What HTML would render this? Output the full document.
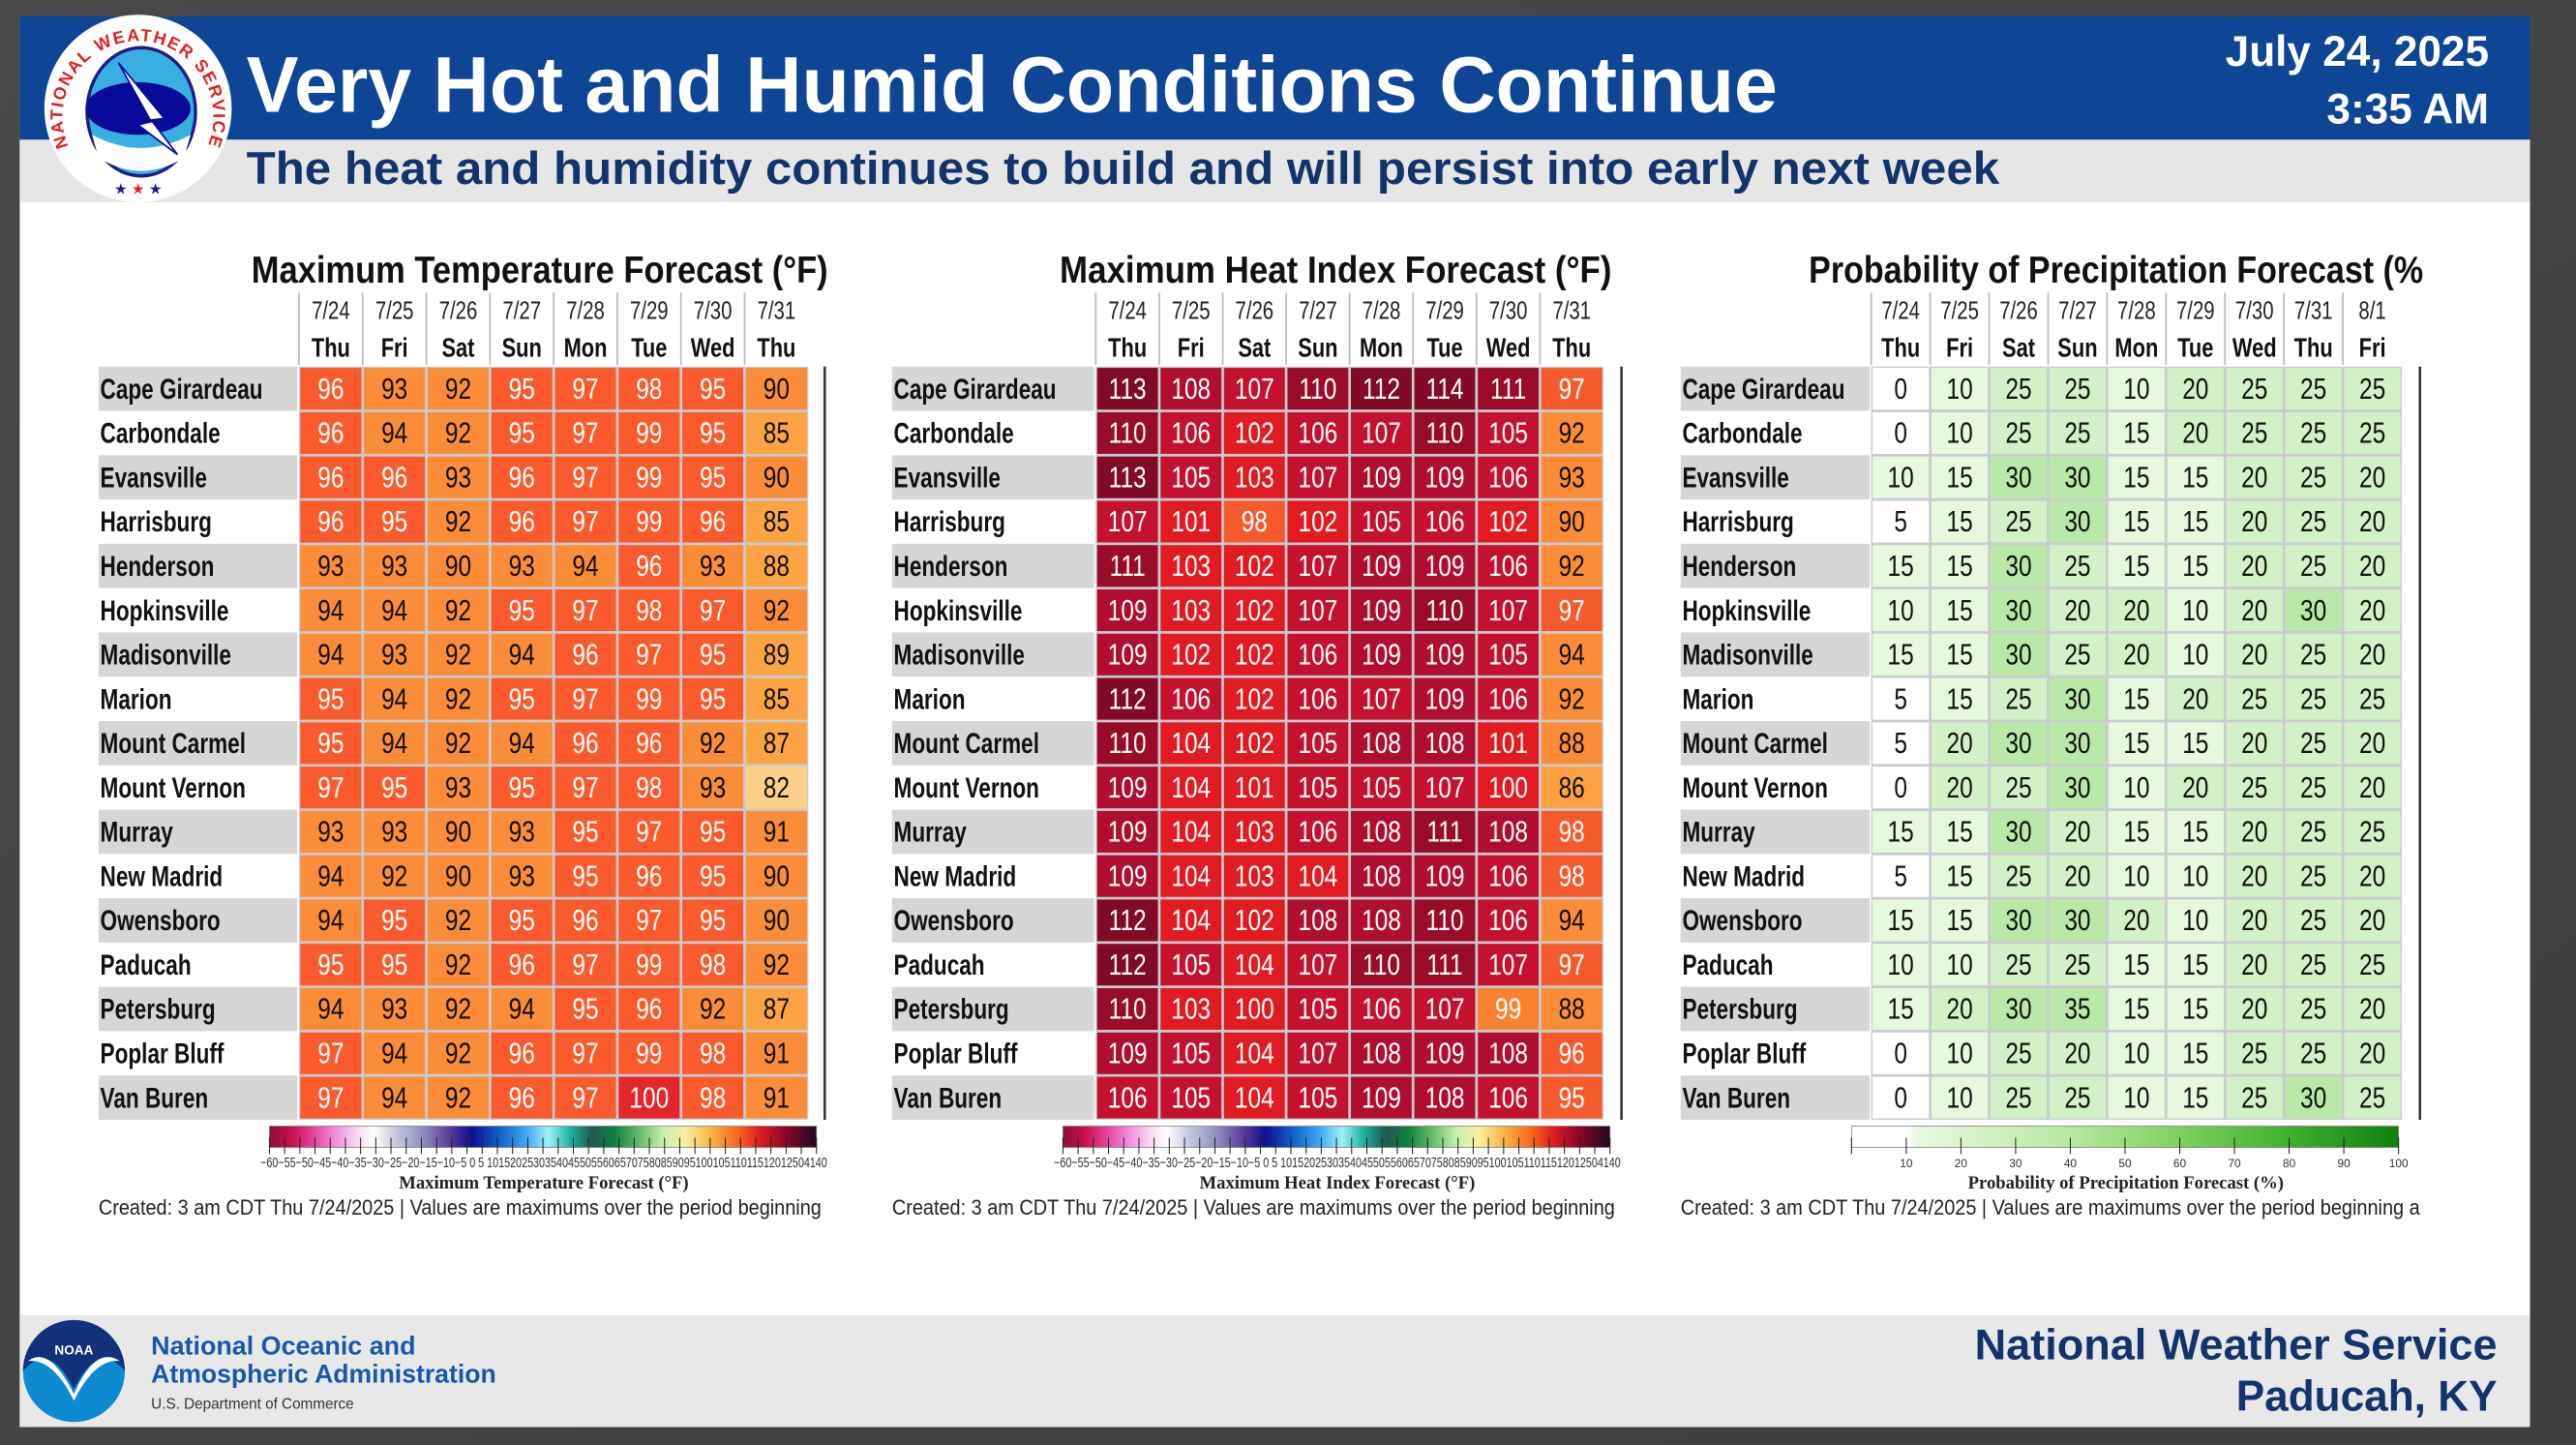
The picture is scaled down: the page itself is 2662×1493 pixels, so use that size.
<!DOCTYPE html>
<html><head><meta charset="utf-8">
<style>
html,body{margin:0;padding:0;background:#444;}
svg{display:block;}
text{font-family:"Liberation Sans",sans-serif;}
</style></head>
<body>
<svg id="s" xmlns="http://www.w3.org/2000/svg" width="2662" height="1493" viewBox="0 0 1568 879" preserveAspectRatio="none">
<defs>
<linearGradient id="bg" x1="0" y1="0" x2="1" y2="1"><stop offset="0" stop-color="#474849"/><stop offset="1" stop-color="#3f3f40"/></linearGradient>
<linearGradient id="tg" x1="0" x2="1">
<stop offset="0" stop-color="#8a0f3c"/><stop offset=".04" stop-color="#c8104e"/><stop offset=".08" stop-color="#e0459a"/><stop offset=".12" stop-color="#f58be0"/><stop offset=".16" stop-color="#f7d8f0"/><stop offset=".19" stop-color="#ffffff"/><stop offset=".23" stop-color="#c8c8e0"/><stop offset=".28" stop-color="#9090c0"/><stop offset=".33" stop-color="#5a3a98"/><stop offset=".37" stop-color="#101090"/><stop offset=".42" stop-color="#1060c8"/><stop offset=".47" stop-color="#40a8f0"/><stop offset=".51" stop-color="#a0f0f8"/><stop offset=".55" stop-color="#20b0a0"/><stop offset=".59" stop-color="#205850"/><stop offset=".63" stop-color="#108040"/><stop offset=".68" stop-color="#70c070"/><stop offset=".72" stop-color="#c8f0b0"/><stop offset=".76" stop-color="#f8f0a0"/><stop offset=".81" stop-color="#f8b040"/><stop offset=".86" stop-color="#f86020"/><stop offset=".9" stop-color="#d81820"/><stop offset=".94" stop-color="#900828"/><stop offset="1" stop-color="#200820"/>
</linearGradient>
<linearGradient id="pg" x1="0" x2="1">
<stop offset="0" stop-color="#ffffff"/><stop offset=".1" stop-color="#ffffff"/><stop offset=".12" stop-color="#e8f8e0"/><stop offset=".4" stop-color="#b8e8a0"/><stop offset=".6" stop-color="#80d060"/><stop offset=".8" stop-color="#40b030"/><stop offset="1" stop-color="#108010"/>
</linearGradient>
<path id="arc" d="M52 104 A46 46 0 1 1 116 104"/>
</defs>
<rect width="1568" height="879" fill="url(#bg)"/>
<rect x="12" y="10" width="1528" height="858" fill="#ffffff"/>
<rect x="12" y="10" width="1528" height="75" fill="#0e4595"/>
<rect x="12" y="85" width="1528" height="38" fill="#e6e6e6"/>
<rect x="12" y="800" width="1528" height="68" fill="#e8e8e8"/>
<text x="150" y="68" font-size="48" font-weight="bold" fill="#fff" textLength="932" lengthAdjust="spacingAndGlyphs">Very Hot and Humid Conditions Continue</text>
<text x="150" y="112" font-size="28" font-weight="bold" fill="#12336b" textLength="1067" lengthAdjust="spacingAndGlyphs">The heat and humidity continues to build and will persist into early next week</text>
<text x="1515" y="40" font-size="26" font-weight="bold" fill="#fff" text-anchor="end">July 24, 2025</text>
<text x="1515" y="75" font-size="26" font-weight="bold" fill="#fff" text-anchor="end">3:35 AM</text>
<ellipse cx="84" cy="66" rx="57" ry="57" fill="#fff"/>
<ellipse cx="86" cy="68" rx="34" ry="40" fill="#1b1b8a"/>
<ellipse cx="86" cy="68" rx="32" ry="38" fill="#39aee0"/>
<ellipse cx="84" cy="66" rx="32" ry="16" fill="#0a0a9a"/>
<path d="M56 82 Q86 98 116 82 L112 96 Q86 112 60 96Z" fill="#fff"/>
<path d="M72 38 L100 72 L92 73 L108 94 L84 76 L92 74Z" fill="#fff" stroke="#0a0a9a" stroke-width="1"/>
<text font-size="10.5" font-weight="bold" fill="#e02020" letter-spacing="1"><textPath href="#arc" startOffset="50%" text-anchor="middle">NATIONAL WEATHER SERVICE</textPath></text>
<text x="84" y="118" font-size="9" fill="#1b1b8a" text-anchor="middle">★ <tspan fill="#e02020">★</tspan> ★</text>
<circle cx="45" cy="834" r="31" fill="#0d8ad0"/>
<path d="M14 834 A31 31 0 0 1 76 834 Q60 815 45 845 Q30 815 14 834Z" fill="#13307a"/>
<path d="M17 828 Q30 818 45 848 Q58 818 73 828 Q58 826 45 852 Q32 826 17 828Z" fill="#fff"/>
<text x="45" y="824" font-size="8" font-weight="bold" fill="#fff" text-anchor="middle">NOAA</text>
<text x="92" y="824" font-size="16" font-weight="bold" fill="#1a57a8" textLength="161" lengthAdjust="spacingAndGlyphs">National Oceanic and</text>
<text x="92" y="841" font-size="16" font-weight="bold" fill="#1a57a8" textLength="210" lengthAdjust="spacingAndGlyphs">Atmospheric Administration</text>
<text x="92" y="857" font-size="9" fill="#333">U.S. Department of Commerce</text>
<text x="1520" y="827" font-size="26" font-weight="bold" fill="#12336b" text-anchor="end" textLength="318" lengthAdjust="spacingAndGlyphs">National Weather Service</text>
<text x="1520" y="858" font-size="26" font-weight="bold" fill="#12336b" text-anchor="end">Paducah, KY</text>
<g id="tables"></g>
</svg>
<script>
var names=["Cape Girardeau","Carbondale","Evansville","Harrisburg","Henderson","Hopkinsville","Madisonville","Marion","Mount Carmel","Mount Vernon","Murray","New Madrid","Owensboro","Paducah","Petersburg","Poplar Bluff","Van Buren"];
var T=[[96,93,92,95,97,98,95,90],[96,94,92,95,97,99,95,85],[96,96,93,96,97,99,95,90],[96,95,92,96,97,99,96,85],[93,93,90,93,94,96,93,88],[94,94,92,95,97,98,97,92],[94,93,92,94,96,97,95,89],[95,94,92,95,97,99,95,85],[95,94,92,94,96,96,92,87],[97,95,93,95,97,98,93,82],[93,93,90,93,95,97,95,91],[94,92,90,93,95,96,95,90],[94,95,92,95,96,97,95,90],[95,95,92,96,97,99,98,92],[94,93,92,94,95,96,92,87],[97,94,92,96,97,99,98,91],[97,94,92,96,97,100,98,91]];
var H=[[113,108,107,110,112,114,111,97],[110,106,102,106,107,110,105,92],[113,105,103,107,109,109,106,93],[107,101,98,102,105,106,102,90],[111,103,102,107,109,109,106,92],[109,103,102,107,109,110,107,97],[109,102,102,106,109,109,105,94],[112,106,102,106,107,109,106,92],[110,104,102,105,108,108,101,88],[109,104,101,105,105,107,100,86],[109,104,103,106,108,111,108,98],[109,104,103,104,108,109,106,98],[112,104,102,108,108,110,106,94],[112,105,104,107,110,111,107,97],[110,103,100,105,106,107,99,88],[109,105,104,107,108,109,108,96],[106,105,104,105,109,108,106,95]];
var P=[[0,10,25,25,10,20,25,25,25],[0,10,25,25,15,20,25,25,25],[10,15,30,30,15,15,20,25,20],[5,15,25,30,15,15,20,25,20],[15,15,30,25,15,15,20,25,20],[10,15,30,20,20,10,20,30,20],[15,15,30,25,20,10,20,25,20],[5,15,25,30,15,20,25,25,25],[5,20,30,30,15,15,20,25,20],[0,20,25,30,10,20,25,25,20],[15,15,30,20,15,15,20,25,25],[5,15,25,20,10,10,20,25,20],[15,15,30,30,20,10,20,25,20],[10,10,25,25,15,15,20,25,25],[15,20,30,35,15,15,20,25,20],[0,10,25,20,10,15,25,25,20],[0,10,25,25,10,15,25,30,25]];
function tc(v){if(v>=100)return["#e4252a","#fff"];if(v>=95)return["#fa5a2c","#fff"];if(v>=90)return["#fb8c38","#111"];if(v>=84)return["#fca444","#111"];return["#fdd08a","#111"];}
function hc(v){if(v>=112)return["#820a26","#fff"];if(v>=110)return["#9a0b2a","#fff"];if(v>=108)return["#b00e2e","#fff"];if(v>=105)return["#c4122e","#fff"];if(v>=100)return["#e21a22","#fff"];if(v>=99)return["#f8822e","#fff"];if(v>=95)return["#f65a2c","#fff"];if(v>=88)return["#fb8c38","#111"];return["#fca040","#111"];}
function pc(v){if(v>=30)return["#bae8a8","#111"];if(v>=20)return["#d2f1c6","#111"];if(v>=10)return["#e6f8de","#111"];return["#ffffff","#111"];}
var dates=["7/24","7/25","7/26","7/27","7/28","7/29","7/30","7/31","8/1"];
var days=["Thu","Fri","Sat","Sun","Mon","Tue","Wed","Thu","Fri"];
var out="";
function t(x,y,fs,anc,fill,wt,s,sx){return '<text transform="translate('+x+','+y+') scale('+sx+',1)" font-size="'+fs+'" text-anchor="'+anc+'" fill="'+fill+'" font-weight="'+wt+'">'+s+'</text>';}
function panel(o){
 var y0=223,rh=26.95,n=o.data[0].length,cw=(o.cx1-o.cx0)/n;
 out+='<text x="'+o.tx+'" y="172" font-size="23" fill="#111" textLength="'+o.tw+'" lengthAdjust="spacingAndGlyphs" font-weight="bold">'+o.title+'</text>';
 for(var j=0;j<n;j++){var x=o.cx0+j*cw;
  out+='<line x1="'+x+'" y1="178" x2="'+x+'" y2="222" stroke="#bbb" stroke-width="1"/>';
  out+=t(x+cw/2,194,15,"middle","#222","normal",dates[j],0.8);
  out+=t(x+cw/2,217,16.5,"middle","#111","bold",days[j],0.78);}
 out+='<rect x="'+o.cx0+'" y="'+y0+'" width="'+(o.cx1-o.cx0)+'" height="'+(rh*17)+'" fill="#c9cbd0"/>';
 for(var i=0;i<17;i++){var y=y0+i*rh;
  if(i%2==0)out+='<rect x="'+o.nx+'" y="'+y+'" width="'+(o.cx0-o.nx-1)+'" height="'+rh+'" fill="#d6d6d6"/>';
  out+=t(o.nx+1,y+19.5,17.5,"start","#111","bold",names[i],0.76);
  for(var j=0;j<n;j++){var v=o.data[i][j],c=o.col(v),x=o.cx0+j*cw;
   out+='<rect x="'+(x+0.8)+'" y="'+(y+0.8)+'" width="'+(cw-1.6)+'" height="'+(rh-1.6)+'" fill="'+c[0]+'"/>';
   out+=t(x+cw/2,y+19.5,18,"middle",c[1],"normal",v,0.8);}}
 out+='<line x1="'+o.rl+'" y1="'+y0+'" x2="'+o.rl+'" y2="'+(y0+rh*17)+'" stroke="#333" stroke-width="1.5"/>';
 out+='<rect x="'+o.bx+'" y="685" width="333" height="13" fill="url(#'+o.grad+')" stroke="#888" stroke-width="0.5"/>';
 var nt=o.grad=="tg"?36:10;
 for(var k=0;k<=nt;k++){var xx=o.bx+k*333/nt;out+='<line x1="'+xx+'" y1="692" x2="'+xx+'" y2="702" stroke="#222" stroke-width="0.6"/>';}
 if(o.grad=="tg"){out+='<text x="'+(o.bx+167)+'" y="710" font-size="8.5" text-anchor="middle" fill="#333" textLength="345" lengthAdjust="spacingAndGlyphs">−60−55−50−45−40−35−30−25−20−15−10−5 0 5 10152025303540455055606570758085909510010511011512012504140</text>';}
 else{for(var k=1;k<=10;k++){out+='<text x="'+(o.bx+k*33.3)+'" y="710" font-size="7" text-anchor="middle" fill="#333">'+(k*10)+'</text>';}}
 out+='<text x="'+(o.bx+167)+'" y="723" font-size="11" font-weight="bold" text-anchor="middle" fill="#222" style="font-family:\'Liberation Serif\',serif">'+o.cap+'</text>';
 out+='<text x="'+o.nx+'" y="739" font-size="13" fill="#222" textLength="'+o.crw+'" lengthAdjust="spacingAndGlyphs">Created: 3 am CDT Thu 7/24/2025  |  Values are maximums over the period beginning'+(o.grad=="pg"?' a':'')+'</text>';
}
panel({title:"Maximum Temperature Forecast (°F)",tx:153,tw:351,nx:60,cx0:182,cx1:492,rl:502,data:T,col:tc,bx:164,grad:"tg",cap:"Maximum Temperature Forecast (°F)",crw:440});
panel({title:"Maximum Heat Index Forecast (°F)",tx:645,tw:336,nx:543,cx0:667,cx1:976,rl:987,data:H,col:hc,bx:647,grad:"tg",cap:"Maximum Heat Index Forecast (°F)",crw:440});
panel({title:"Probability of Precipitation Forecast (%",tx:1101,tw:374,nx:1023,cx0:1139,cx1:1462,rl:1473,data:P,col:pc,bx:1127,grad:"pg",cap:"Probability of Precipitation Forecast (%)",crw:450});
document.getElementById("tables").innerHTML=out;
</script>
</body></html>
